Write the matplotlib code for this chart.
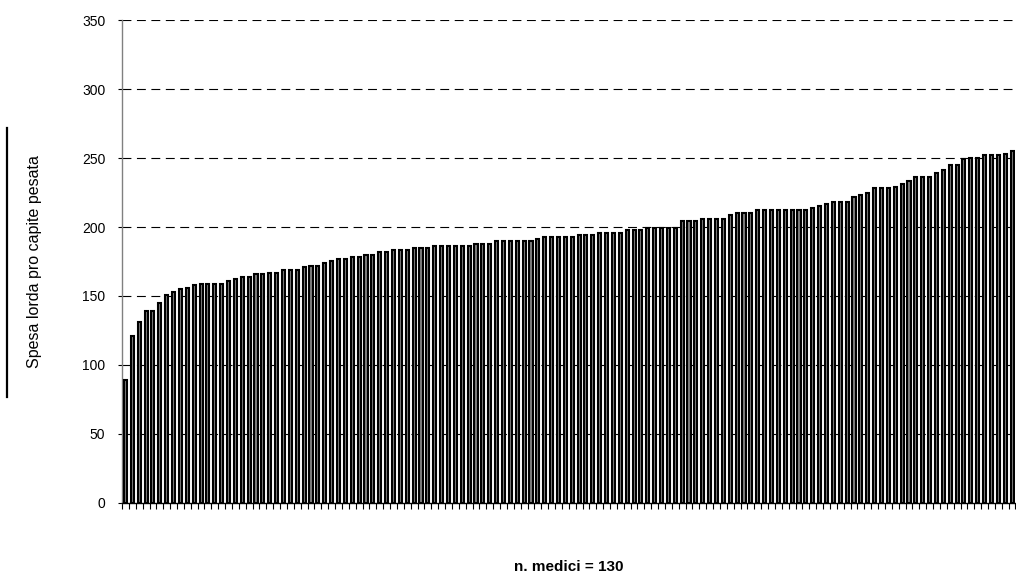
import numpy as np
import matplotlib.pyplot as plt
from matplotlib.lines import Line2D

plt.rcParams['font.family'] = ['Liberation Sans', 'DejaVu Sans']

# spesa lorda pro capite pesata, one value per medico (sorted)
spesa = [89, 121, 131, 139, 139, 145, 151, 153, 155, 156,
         158, 159, 159, 159, 159, 161, 162, 164, 164, 166,
         166, 167, 167, 169, 169, 169, 171, 172, 172, 174,
         175, 177, 177, 178, 178, 180, 180, 182, 182, 183,
         183, 183, 185, 185, 185, 186, 186, 186, 186, 186,
         186, 188, 188, 188, 190, 190, 190, 190, 190, 190,
         191, 193, 193, 193, 193, 193, 194, 194, 194, 196,
         196, 196, 196, 198, 198, 198, 199, 199, 199, 199,
         199, 204, 204, 204, 206, 206, 206, 206, 209, 210,
         210, 210, 212, 212, 212, 212, 212, 212, 212, 212,
         214, 215, 217, 218, 218, 218, 222, 223, 225, 228,
         228, 228, 229, 231, 233, 236, 236, 236, 239, 241,
         245, 245, 249, 250, 250, 252, 252, 252, 253, 255]
n_medici = len(spesa)
yticks = [0, 50, 100, 150, 200, 250, 300, 350]

fig = plt.figure(figsize=(10.16, 5.77), dpi=100)
ax = fig.add_axes([0.1201, 0.1283, 0.8794, 0.8370])

x = np.arange(n_medici)
ax.bar(x, spesa, width=0.45, color='#808080', edgecolor='black', linewidth=1.5, zorder=3)

ax.set_xlim(-0.5, n_medici - 0.5)
ax.set_ylim(0, 350)
ax.set_yticks(yticks)
ax.set_yticklabels([str(v) for v in yticks], fontsize=10)
ax.tick_params(axis='y', length=3, width=0.8, pad=9, colors='black')

# category boundary ticks on the x axis, no labels
ax.set_xticks(np.arange(n_medici + 1) - 0.5)
ax.set_xticklabels([])
ax.tick_params(axis='x', length=4, width=0.8, direction='out')

for v in yticks[1:]:
    ax.axhline(v, color='black', linewidth=0.8, linestyle=(0, (8, 5)), zorder=1)

ax.spines['top'].set_visible(False)
ax.spines['right'].set_visible(False)
ax.spines['left'].set_color('#808080')
ax.spines['left'].set_linewidth(1.0)
ax.spines['bottom'].set_color('black')
ax.spines['bottom'].set_linewidth(1.0)

ax.set_ylabel('Spesa lorda pro capite pesata', fontsize=11.5, va='center')
ax.yaxis.set_label_coords(-0.098, 0.5)
ax.set_xlabel('n. medici = 130', fontsize=11, fontweight='bold', va='center')
ax.xaxis.set_label_coords(0.5, -0.133)

fig.add_artist(Line2D([0.0068, 0.0068], [1 - 397 / 577, 1 - 128 / 577],
                      color='black', linewidth=1.6))

fig.savefig('out.png', dpi=100)
